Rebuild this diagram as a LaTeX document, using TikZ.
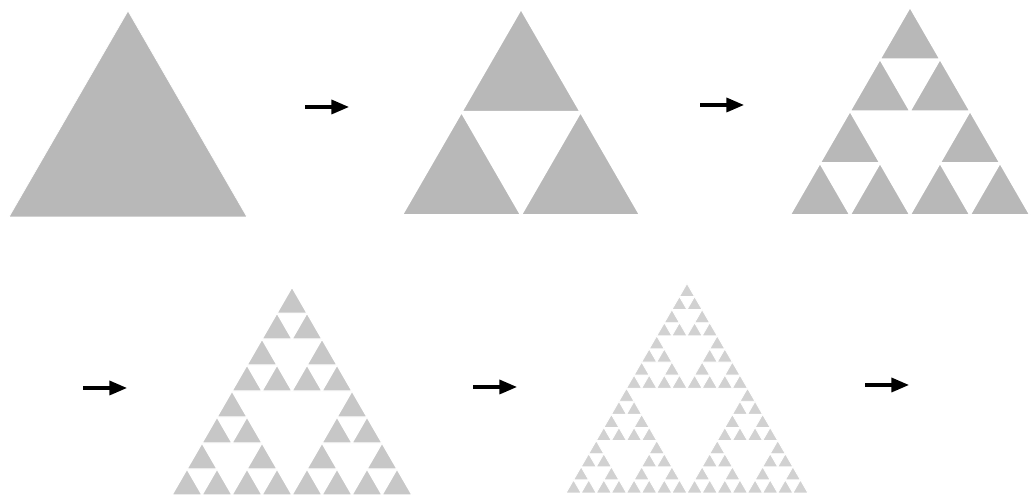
\documentclass[tikz,border=0pt]{standalone}
\usetikzlibrary{arrows.meta}

\tikzset{
  leaf/.style={fill=black!28, draw=white, line width=0.2pt},
  flow/.style={line width=0.9pt, -{Triangle[length=5pt,width=4pt]}}
}

% one level of the gasket on the unit triangle
\newcommand\sierp[1]{%
  \ifnum#1<1
    \filldraw[leaf] (0,0) -- (1,0) -- (60:1) -- cycle;
  \else
    \begin{scope}[scale=0.5]\sierp{\numexpr#1-1\relax}\end{scope}%
    \begin{scope}[shift={(0.5,0)},scale=0.5]\sierp{\numexpr#1-1\relax}\end{scope}%
    \begin{scope}[shift={(60:0.5)},scale=0.5]\sierp{\numexpr#1-1\relax}\end{scope}%
  \fi}

\begin{document}
\begin{tikzpicture}
    \useasboundingbox (0,0) rectangle (10.36,5.00);

    \begin{scope}[shift={(0.09,2.83)}, scale=2.38]
        \sierp{0}
    \end{scope}
    \begin{scope}[shift={(4.02,2.85)}, scale=2.38, leaf/.append style={line width=0.55pt}]
        \sierp{1}
    \end{scope}
    \begin{scope}[shift={(7.90,2.85)}, scale=2.40, leaf/.append style={line width=0.45pt}]
        \sierp{2}
    \end{scope}
    \begin{scope}[shift={(1.72,0.05)}, scale=2.40, leaf/.append style={fill=black!22, line width=0.35pt}]
        \sierp{3}
    \end{scope}
    \begin{scope}[shift={(5.66,0.07)}, scale=2.42, leaf/.append style={fill=black!18, line width=0.25pt}]
        \sierp{4}
    \end{scope}

    \coordinate (a1s) at (3.05,3.93);
    \coordinate (a1e) at (3.49,3.93);
    \coordinate (a2s) at (7.00,3.95);
    \coordinate (a2e) at (7.44,3.95);
    \coordinate (a3s) at (0.83,1.12);
    \coordinate (a3e) at (1.27,1.12);
    \coordinate (a4s) at (4.73,1.13);
    \coordinate (a4e) at (5.17,1.13);
    \coordinate (a5s) at (8.65,1.15);
    \coordinate (a5e) at (9.09,1.15);

    \foreach \a in {1,...,5}
        \draw[flow] (a\a s) -- (a\a e);
\end{tikzpicture}
\end{document}
